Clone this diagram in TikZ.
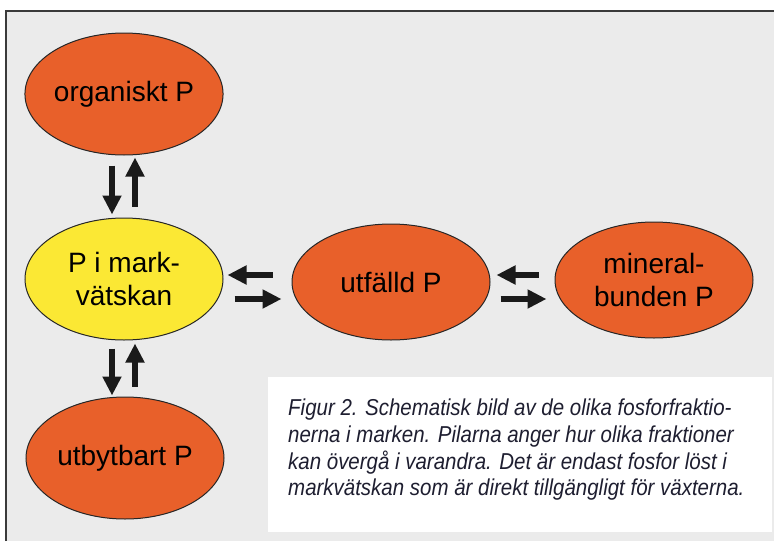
\documentclass[tikz,border=0pt]{standalone}
\usepackage{fontspec}
\setmainfont{Liberation Sans}
\newfontfamily\capfont[FakeStretch=0.89]{Liberation Sans}
\usetikzlibrary{shapes.geometric,arrows.meta}
\definecolor{panelgray}{HTML}{EBEBEB}
\definecolor{porange}{HTML}{E8602A}
\definecolor{pyellow}{HTML}{FBE834}
\definecolor{arrowblack}{HTML}{1A1A1A}
\definecolor{framegray}{HTML}{3A3A3A}
\definecolor{captext}{HTML}{1E1E30}
\tikzset{
  pool/.style={ellipse, draw=black!85, line width=1pt, fill=porange, inner sep=0pt,
    minimum width=198pt, minimum height=122pt,
    font=\fontsize{28}{33}\selectfont, align=center},
  solution/.style={pool, fill=pyellow},
  arr/.style={arrowblack, line width=6pt, -{Triangle[length=19pt,width=18pt]}},
  captxt/.style={captext, inner sep=0pt, align=left, anchor=north west,
    font=\capfont\itshape\fontsize{23}{26.7}\selectfont},
}
\begin{document}
\begin{tikzpicture}[x=1pt,y=-1pt]
\useasboundingbox (0,0) rectangle (774,541);
\fill[white] (0,0) rectangle (774,541);
\fill[panelgray] (6,11) rectangle (774,541);
\draw[framegray, line width=2pt] (6,541) -- (6,11) -- (774,11);

\node[pool] (org) at (124,94) {organiskt P};
\node[solution] (mark) at (124,279) {P i mark-\\vätskan};
\node[pool] (utb) at (125,458) {utbytbart P};
\node[pool, minimum height=116pt] (utf) at (391,282) {utfälld P};
\node[pool, minimum height=116pt] (min) at (654,280) {mineral-\\bunden P};

% vertical pairs
\draw[arr] ([xshift=-12pt,yshift=-10pt]org.south) -- ([xshift=-12pt,yshift=3pt]mark.north);
\draw[arr] ([xshift=11pt,yshift=11pt]mark.north) -- ([xshift=11pt,yshift=-2pt]org.south);
\draw[arr] ([xshift=-12pt,yshift=-8pt]mark.south) -- ([xshift=-13pt,yshift=1pt]utb.north);
\draw[arr] ([xshift=10pt,yshift=10pt]utb.north) -- ([xshift=11pt,yshift=-3pt]mark.south);

% horizontal pairs
\draw[arr] ([xshift=-19pt,yshift=7pt]utf.west) -- ([xshift=4pt,yshift=4pt]mark.east);
\draw[arr] ([xshift=11pt,yshift=-20pt]mark.east) -- ([xshift=-10pt,yshift=-17pt]utf.west);
\draw[arr] ([xshift=-16pt,yshift=5pt]min.west) -- ([xshift=6pt,yshift=7pt]utf.east);
\draw[arr] ([xshift=10pt,yshift=-17pt]utf.east) -- ([xshift=-8pt,yshift=-19pt]min.west);

% caption
\fill[white] (268,377) rectangle (772,532);
\node[captxt] (cap) at (288,399) {Figur 2. Schematisk bild av de olika fosforfraktio-\\
nerna i marken. Pilarna anger hur olika fraktioner\\
kan övergå i varandra. Det är endast fosfor löst i\\
markvätskan som är direkt tillgängligt för växterna.};
\end{tikzpicture}
\end{document}
